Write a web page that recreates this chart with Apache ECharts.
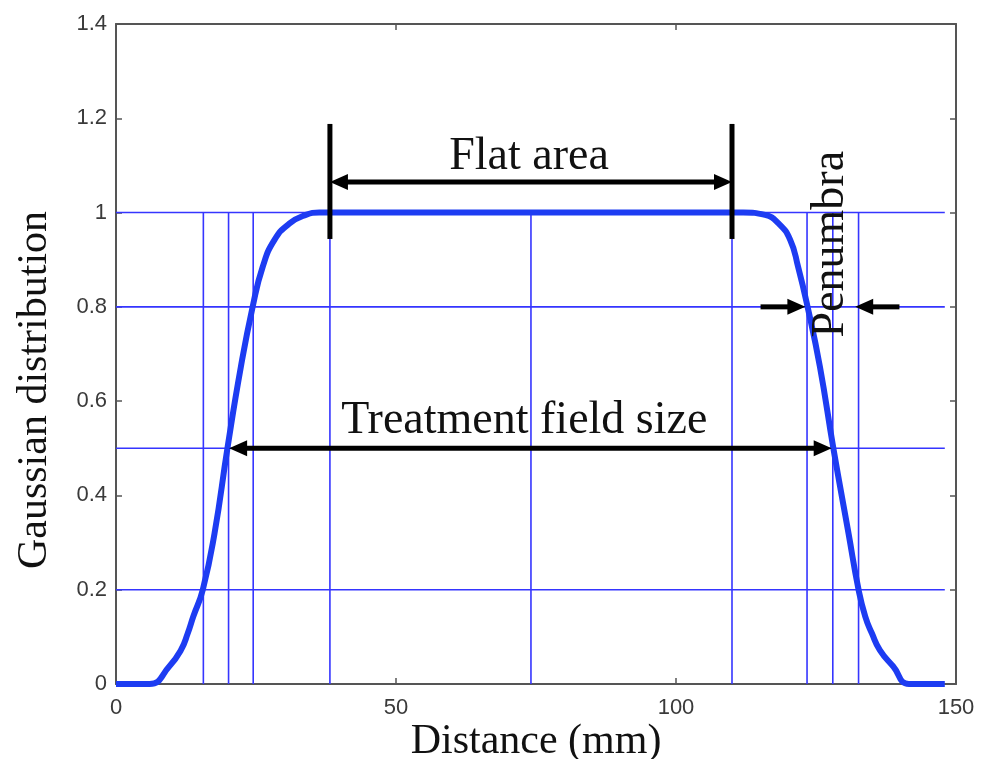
<!DOCTYPE html>
<html><head><meta charset="utf-8">
<script src="https://cdn.jsdelivr.net/npm/echarts@6/dist/echarts.min.js"></script>
<style>html,body{margin:0;padding:0;background:#fff}#c{width:988px;height:759px}</style>
</head><body><div id="c"></div>
<script>
// Beam profile
const distance = [0, 6.0, 9.5, 11.6, 12.8, 13.8, 15.5, 17.6, 19.9, 22.3, 24.4, 26.2, 28.3, 31.0, 33.9, 36.3,
                  112.0, 115.9, 118.3, 120.4, 121.8, 123.5, 125.7, 128.1, 130.8, 132.6, 133.8, 135.0, 136.4, 138.8, 141.6, 148];
const gaussian = [0, 0, 0.037, 0.072, 0.107, 0.143, 0.2, 0.32, 0.5, 0.673, 0.8, 0.885, 0.942, 0.977, 0.995, 1.0,
                  1.0, 0.995, 0.977, 0.942, 0.885, 0.8, 0.673, 0.5, 0.32, 0.2, 0.143, 0.107, 0.072, 0.037, 0, 0];

// Reference lines
const verticalMarks = [15.6, 20.1, 24.5, 38.2, 74.1, 110.0, 123.4, 128.0, 132.6];
const verticalTop = 1.0;
const horizontalMarks = [0.2, 0.5, 0.8, 1.0];
const horizontalEnd = 148;

// Annotation geometry (data coordinates)
const flatBars = [[38.2, 0.944, 38.2, 1.188], [110.0, 0.944, 110.0, 1.188]];
const arrows = [
  [38.2, 1.065, 110.0, 1.065, 1, 1],
  [20.2, 0.5, 127.8, 0.5, 1, 1],
  [115.1, 0.8, 123.1, 0.8, 0, 1],
  [139.9, 0.8, 132.0, 0.8, 0, 1]
];
const labels = ['Flat area', 'Treatment field size', 'Penumbra'];
const labelX = [73.75, 72.9, 127.7];
const labelY = [1.118, 0.557, 0.933];
const labelRotate = [0, 0, 90];

const chart = echarts.init(document.getElementById('c'));

const segs = [];
verticalMarks.forEach(x => segs.push([x, 0, x, verticalTop]));
horizontalMarks.forEach(y => segs.push([0, y, horizontalEnd, y]));

function axisCommon() {
  return {
    axisLine: {show: true, onZero: false, lineStyle: {color: '#555', width: 2}},
    axisTick: {show: true, inside: true, length: 6, lineStyle: {color: '#555', width: 1.5}},
    splitLine: {show: false}
  };
}
const labelStyle = {fontFamily: 'Liberation Sans, Arial, sans-serif', fontSize: 22, color: '#3a3a3a'};

chart.setOption({
  animation: false,
  backgroundColor: '#fff',
  grid: {left: 116, right: 32, top: 24, bottom: 75, show: false, containLabel: false, outerBoundsMode: 'none'},
  xAxis: [
    Object.assign({type: 'value', min: 0, max: 150, interval: 50, position: 'bottom',
      name: 'Distance (mm)', nameLocation: 'middle', nameGap: 37, nameMoveOverlap: false,
      nameTextStyle: {fontFamily: 'Liberation Serif, Times New Roman, serif', fontSize: 42, color: '#111'},
      axisLabel: Object.assign({margin: 13}, labelStyle)}, axisCommon()),
    Object.assign({type: 'value', min: 0, max: 150, interval: 50, position: 'top', axisLabel: {show: false}}, axisCommon())
  ],
  yAxis: [
    Object.assign({type: 'value', min: 0, max: 1.4, interval: 0.2, position: 'left',
      name: 'Gaussian distribution', nameLocation: 'middle', nameGap: 60, nameRotate: 90, nameMoveOverlap: false,
      nameTextStyle: {fontFamily: 'Liberation Serif, Times New Roman, serif', fontSize: 42, color: '#111', padding: [0, 72, 0, 0]},
      axisLabel: Object.assign({margin: 9}, labelStyle)}, axisCommon()),
    Object.assign({type: 'value', min: 0, max: 1.4, interval: 0.2, position: 'right', axisLabel: {show: false}}, axisCommon())
  ],
  series: [
    {
      type: 'custom', z: 1, silent: true,
      data: segs,
      renderItem: function (params, api) {
        const p1 = api.coord([api.value(0), api.value(1)]);
        const p2 = api.coord([api.value(2), api.value(3)]);
        return {type: 'line', shape: {x1: p1[0], y1: p1[1], x2: p2[0], y2: p2[1]},
          style: {stroke: '#3535ff', lineWidth: 1.6}};
      }
    },
    {
      type: 'line', z: 3, silent: true,
      data: distance.map((d, i) => [d, gaussian[i]]),
      showSymbol: false, smooth: 0.5,
      lineStyle: {color: '#1d3cf2', width: 6}
    },
    {
      type: 'custom', z: 5, silent: true,
      data: flatBars,
      renderItem: function (params, api) {
        const p1 = api.coord([api.value(0), api.value(1)]);
        const p2 = api.coord([api.value(2), api.value(3)]);
        return {type: 'line', shape: {x1: p1[0], y1: p1[1], x2: p2[0], y2: p2[1]},
          style: {stroke: '#000', lineWidth: 5}};
      }
    },
    {
      type: 'custom', z: 6, silent: true,
      data: arrows,
      renderItem: function (params, api) {
        const a = api.coord([api.value(0), api.value(1)]);
        const b = api.coord([api.value(2), api.value(3)]);
        const hs = api.value(4), he = api.value(5);
        const dx = b[0] - a[0], dy = b[1] - a[1];
        const len = Math.sqrt(dx * dx + dy * dy);
        const ux = dx / len, uy = dy / len;
        const nx = -uy, ny = ux;
        const L = 18, W = 16;
        const s = hs ? [a[0] + ux * (L - 2), a[1] + uy * (L - 2)] : a;
        const e = he ? [b[0] - ux * (L - 2), b[1] - uy * (L - 2)] : b;
        const children = [{type: 'line', shape: {x1: s[0], y1: s[1], x2: e[0], y2: e[1]},
          style: {stroke: '#000', lineWidth: 5}}];
        function head(tip, dirx, diry) {
          const bx = tip[0] - dirx * L, by = tip[1] - diry * L;
          return {type: 'polygon', shape: {points: [tip, [bx + nx * W / 2, by + ny * W / 2], [bx - nx * W / 2, by - ny * W / 2]]},
            style: {fill: '#000'}};
        }
        if (he) children.push(head(b, ux, uy));
        if (hs) children.push(head(a, -ux, -uy));
        return {type: 'group', children: children};
      }
    },
    {
      type: 'custom', z: 7, silent: true,
      data: labelX.map((x, i) => [x, labelY[i]]),
      renderItem: function (params, api) {
        const p = api.coord([api.value(0), api.value(1)]);
        const i = params.dataIndex;
        return {type: 'text', x: p[0], y: p[1], rotation: labelRotate[i] * Math.PI / 180,
          style: {text: labels[i], font: '46px "Liberation Serif", "Times New Roman", serif', fill: '#111',
            align: 'center', verticalAlign: 'middle', textAlign: 'center', textVerticalAlign: 'middle'}};
      }
    }
  ]
});
</script></body></html>
